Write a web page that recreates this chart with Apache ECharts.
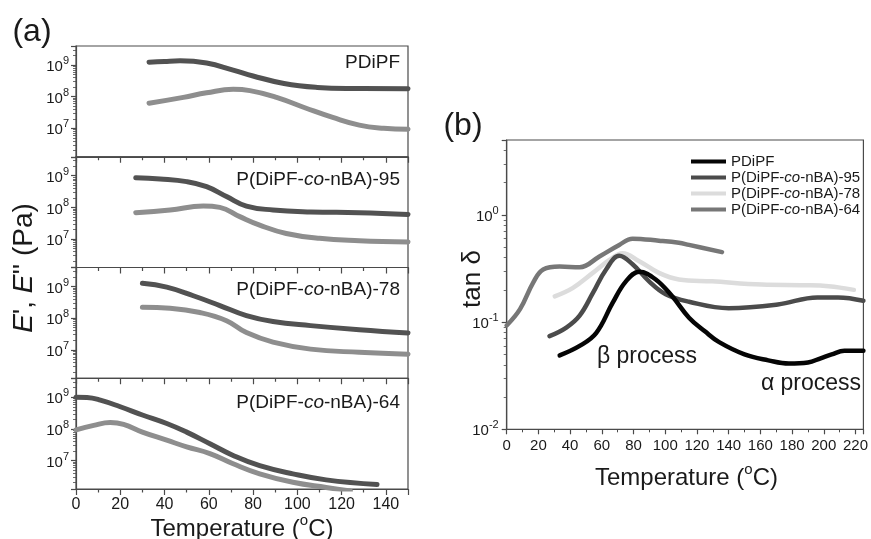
<!DOCTYPE html>
<html>
<head>
<meta charset="utf-8">
<script src="https://cdn.jsdelivr.net/npm/echarts@6/dist/echarts.min.js"></script>
<style>
html,body{margin:0;padding:0;background:#fff;}
#chart{width:871px;height:539px;}
</style>
</head>
<body>
<div id="chart"></div>
<script>
// ---------- Panel (a): storage / loss modulus ----------
const panelNames = ['PDiPF', 'P(DiPF-co-nBA)-95', 'P(DiPF-co-nBA)-78', 'P(DiPF-co-nBA)-64'];
const tempTicksA = [0, 20, 40, 60, 80, 100, 120, 140];

// PDiPF
const tA1_Ep = [33, 40, 47, 59, 71, 80, 94, 109, 124, 150];
const vA1_Ep = [1.23e9, 1.3e9, 1.35e9, 1.15e9, 6.9e8, 4.5e8, 2.6e8, 1.95e8, 1.8e8, 1.78e8];
const tA1_Epp = [33, 48.5, 59, 71, 78.6, 90.6, 104, 116, 128, 139, 150];
const vA1_Epp = [6.2e7, 9.5e7, 1.32e8, 1.7e8, 1.55e8, 9.5e7, 4.3e7, 2.2e7, 1.26e7, 1.0e7, 9.3e6];
// P(DiPF-co-nBA)-95
const tA2_Ep = [27, 38, 50, 59, 68, 77, 89, 106, 128, 150];
const vA2_Ep = [8.7e8, 7.9e8, 6.5e8, 4.5e8, 2.2e8, 1.1e8, 8.3e7, 7.2e7, 6.8e7, 6.0e7];
const tA2_Epp = [27, 42.5, 57.5, 65, 74, 83, 95, 110, 128, 150];
const vA2_Epp = [6.8e7, 8.3e7, 1.1e8, 1.0e8, 5.1e7, 2.75e7, 1.5e7, 1.05e7, 8.9e6, 8.1e6];
// P(DiPF-co-nBA)-78
const tA3_Ep = [30, 41, 53, 65, 77, 89, 106, 128, 150];
const vA3_Ep = [1.26e9, 9.5e8, 5.1e8, 2.5e8, 1.2e8, 7.8e7, 5.8e7, 4.3e7, 3.4e7];
const tA3_Epp = [30, 42.5, 56, 68, 77, 89, 106, 128, 150];
const vA3_Epp = [2.2e8, 2.05e8, 1.5e8, 8.3e7, 3.5e7, 1.75e7, 1.05e7, 8.3e6, 7.2e6];
// P(DiPF-co-nBA)-64
const tA4_Ep = [0, 5, 11, 20, 30, 41, 50, 60.5, 71, 83, 98, 113, 136];
const vA4_Ep = [1.0e9, 9.8e8, 8.1e8, 5.0e8, 2.75e8, 1.48e8, 7.9e7, 3.4e7, 1.45e7, 6.9e6, 3.8e6, 2.45e6, 1.74e6];
const tA4_Epp = [0, 8, 15.5, 21.5, 30, 41, 50, 60.5, 71, 83, 98, 113, 124];
const vA4_Epp = [9.3e7, 1.29e8, 1.58e8, 1.38e8, 7.9e7, 4.4e7, 2.7e7, 1.66e7, 7.9e6, 3.8e6, 2.05e6, 1.41e6, 1.1e6];

// ---------- Panel (b): tan delta ----------
const seriesNamesB = ['PDiPF', 'P(DiPF-co-nBA)-95', 'P(DiPF-co-nBA)-78', 'P(DiPF-co-nBA)-64'];
const tempTicksB = [0, 20, 40, 60, 80, 100, 120, 140, 160, 180, 200, 220];
const tB_PDiPF = [33.4, 46, 56.4, 66.8, 75.2, 83.6, 94, 104.4, 115, 125, 134, 150, 165, 178, 190, 198, 205, 213, 225];
const vB_PDiPF = [0.049, 0.060, 0.079, 0.151, 0.24, 0.295, 0.25, 0.174, 0.11, 0.082, 0.065, 0.050, 0.044, 0.041, 0.042, 0.046, 0.050, 0.054, 0.054];
const tB_95 = [27, 37.6, 46, 54.3, 62.7, 71, 79.4, 89.8, 100.3, 115, 140, 171, 196, 209, 225];
const vB_95 = [0.074, 0.089, 0.115, 0.186, 0.31, 0.415, 0.347, 0.24, 0.182, 0.155, 0.135, 0.146, 0.17, 0.17, 0.158];
const tB_78 = [30.3, 41.8, 54.3, 64.8, 73, 83.6, 96, 108.6, 129.5, 161, 188, 203, 219];
const vB_78 = [0.174, 0.209, 0.288, 0.38, 0.44, 0.37, 0.288, 0.25, 0.24, 0.224, 0.221, 0.216, 0.2];
const tB_64 = [0, 8.4, 16.7, 23, 33.4, 46, 58.5, 71, 79.4, 96, 108.6, 115, 135.8];
const vB_64 = [0.093, 0.132, 0.234, 0.31, 0.33, 0.325, 0.41, 0.525, 0.60, 0.575, 0.55, 0.525, 0.45];

// ---------- build ----------
const zip = (t, v) => t.map((x, i) => [x, v[i]]);
const AXIS = '#4a4a4a';
const TXT = '#1a1a1a';
const C_EP = '#525252', C_EPP = '#8e8e8e';
const colorsB = ['#050505', '#4b4b4b', '#dcdcdc', '#777777'];

const aData = [
  [zip(tA1_Ep, vA1_Ep), zip(tA1_Epp, vA1_Epp)],
  [zip(tA2_Ep, vA2_Ep), zip(tA2_Epp, vA2_Epp)],
  [zip(tA3_Ep, vA3_Ep), zip(tA3_Epp, vA3_Epp)],
  [zip(tA4_Ep, vA4_Ep), zip(tA4_Epp, vA4_Epp)]
];
const bData = [zip(tB_PDiPF, vB_PDiPF), zip(tB_95, vB_95), zip(tB_78, vB_78), zip(tB_64, vB_64)];

const FONT = 'Liberation Sans, Arial, sans-serif';
const supRich = (fs) => ({
  b: {fontSize: fs, color: TXT, fontFamily: FONT, lineHeight: fs + 4, verticalAlign: 'bottom'},
  s: {fontSize: Math.round(fs * 0.72), color: TXT, fontFamily: FONT, lineHeight: Math.round(fs * 0.75), verticalAlign: 'top'}
});
const powFmt = v => {
  const l = Math.log10(v), e = Math.round(l);
  if (Math.abs(l - e) > 1e-6) return '';
  return '{b|10}{s|' + e + '}';
};
const italicCo = s => s.replace('-co-', '-{i|co}-');

const gridsA = [46, 156.75, 267.5, 378.25].map(t => ({
  left: 76, width: 332, top: t, height: 110.75,
  show: true, borderColor: AXIS, borderWidth: 1.2, backgroundColor: 'transparent'
}));
const gridB = {left: 506.7, width: 359.3, top: 140, height: 289.3, show: true, borderColor: AXIS, borderWidth: 1.2};

const xAxes = [], yAxes = [], series = [];
gridsA.forEach((g, i) => {
  xAxes.push({
    gridIndex: i, type: 'value', min: 0, max: 150, interval: 20,
    axisLine: {lineStyle: {color: AXIS, width: 1.2}},
    axisTick: {length: 6, lineStyle: {color: AXIS, width: 1.2}},
    minorTick: {show: true, splitNumber: 2, length: 3.5, lineStyle: {color: AXIS, width: 1.2}},
    splitLine: {show: false}, minorSplitLine: {show: false},
    axisLabel: {show: i === 3, fontSize: 16, color: TXT, margin: 8, showMaxLabel: false,
      fontFamily: FONT,
      formatter: v => (tempTicksA.includes(v) ? String(v) : '')}
  });
  yAxes.push({
    gridIndex: i, type: 'log', logBase: 10, min: 1.26e6, max: 3.98e9,
    axisLine: {show: true, lineStyle: {color: AXIS, width: 1.2}},
    axisTick: {length: 5, lineStyle: {color: AXIS, width: 1.2}},
    minorTick: {show: true, splitNumber: 9, length: 3, lineStyle: {color: AXIS, width: 0.8}},
    splitLine: {show: false},
    axisLabel: {fontSize: 15, color: TXT, margin: 7, formatter: powFmt, rich: supRich(15),
      showMinLabel: false, showMaxLabel: false}
  });
  series.push({type: 'line', xAxisIndex: i, yAxisIndex: i, data: aData[i][0], smooth: 0.45, showSymbol: false,
    lineStyle: {color: C_EP, width: 5, cap: 'round'}, itemStyle: {color: C_EP}, silent: true, z: 3});
  series.push({type: 'line', xAxisIndex: i, yAxisIndex: i, data: aData[i][1], smooth: 0.45, showSymbol: false,
    lineStyle: {color: C_EPP, width: 5, cap: 'round'}, itemStyle: {color: C_EPP}, silent: true, z: 2});
});

// panel (b)
xAxes.push({
  gridIndex: 4, type: 'value', min: 0, max: 225, interval: 20,
  axisLine: {lineStyle: {color: AXIS, width: 1.2}},
  axisTick: {length: 5, lineStyle: {color: AXIS, width: 1.2}},
  minorTick: {show: true, splitNumber: 2, length: 3, lineStyle: {color: AXIS, width: 1}},
  splitLine: {show: false},
  axisLabel: {fontSize: 15, color: TXT, margin: 9, showMaxLabel: false, fontFamily: FONT,
    formatter: v => (tempTicksB.includes(v) ? String(v) : '')}
});
yAxes.push({
  gridIndex: 4, type: 'log', logBase: 10, min: 0.01, max: 5,
  axisLine: {show: true, lineStyle: {color: AXIS, width: 1.2}},
  axisTick: {length: 5, lineStyle: {color: AXIS, width: 1.2}},
  minorTick: {show: true, splitNumber: 9, length: 3, lineStyle: {color: AXIS, width: 0.8}},
  splitLine: {show: false},
  axisLabel: {fontSize: 15, color: TXT, margin: 8, formatter: powFmt, rich: supRich(15), showMaxLabel: false}
});
const zB = [5, 4, 3, 6];
bData.forEach((d, k) => {
  series.push({type: 'line', name: seriesNamesB[k], xAxisIndex: 4, yAxisIndex: 4, data: d, smooth: 0.4,
    showSymbol: false, lineStyle: {color: colorsB[k], width: 4.5, cap: 'round'}, itemStyle: {color: colorsB[k]}, z: zB[k], silent: true});
});

const graphics = [];
const txt = (x, y, text, size, opts = {}) => ({
  type: 'text', x, y, rotation: opts.rotation || 0, silent: true,
  style: Object.assign({text, fill: TXT, fontSize: size, fontFamily: FONT, align: opts.align || 'center',
    verticalAlign: 'middle', rich: opts.rich}, opts.style || {})
});
const richCo = size => ({i: {fontStyle: 'italic', fontSize: size, fontFamily: FONT, fill: TXT, color: TXT}});
graphics.push(txt(32, 32, '(a)', 32));
graphics.push(txt(463, 126, '(b)', 32));
[63, 180, 290, 403].forEach((y, i) => {
  graphics.push(txt(400, y, italicCo(panelNames[i]), 19, {align: 'right', rich: richCo(19)}));
});
const degRich = size => ({s: {fontSize: Math.round(size * 0.62), fontFamily: FONT, fill: TXT, verticalAlign: 'top', lineHeight: Math.round(size * 0.7)},
  n: {fontSize: size, fontFamily: FONT, fill: TXT, verticalAlign: 'bottom', lineHeight: size + 4}});
graphics.push(txt(242, 527, '{n|Temperature (}{s|o}{n|C)}', 24, {rich: degRich(24)}));
graphics.push(txt(686.5, 476, '{n|Temperature (}{s|o}{n|C)}', 24, {rich: degRich(24)}));
graphics.push(txt(24, 268, "{i|E}', {i|E}'' (Pa)", 28, {rotation: Math.PI / 2,
  rich: {i: {fontStyle: 'italic', fontSize: 28, fontFamily: FONT, fill: TXT}}}));
graphics.push(txt(473, 279, 'tan \u03b4', 26, {rotation: Math.PI / 2}));
graphics.push(txt(647, 357, '\u03b2 process', 23));
graphics.push(txt(811, 384, '\u03b1 process', 23));

const option = {
  animation: false,
  backgroundColor: '#ffffff',
  grid: gridsA.concat([gridB]),
  xAxis: xAxes,
  yAxis: yAxes,
  legend: {
    data: seriesNamesB, left: 686, top: 149, orient: 'vertical', itemGap: 1,
    itemWidth: 35, itemHeight: 4, icon: 'rect',
    formatter: name => italicCo(name),
    textStyle: {fontSize: 15, color: TXT, fontFamily: FONT, lineHeight: 14,
      rich: {i: {fontStyle: 'italic', fontSize: 15, fontFamily: FONT, color: TXT, lineHeight: 14}}}
  },
  series: series,
  graphic: graphics
};
const chart = echarts.init(document.getElementById('chart'), null, {renderer: 'canvas'});
chart.setOption(option);
</script>
</body>
</html>
